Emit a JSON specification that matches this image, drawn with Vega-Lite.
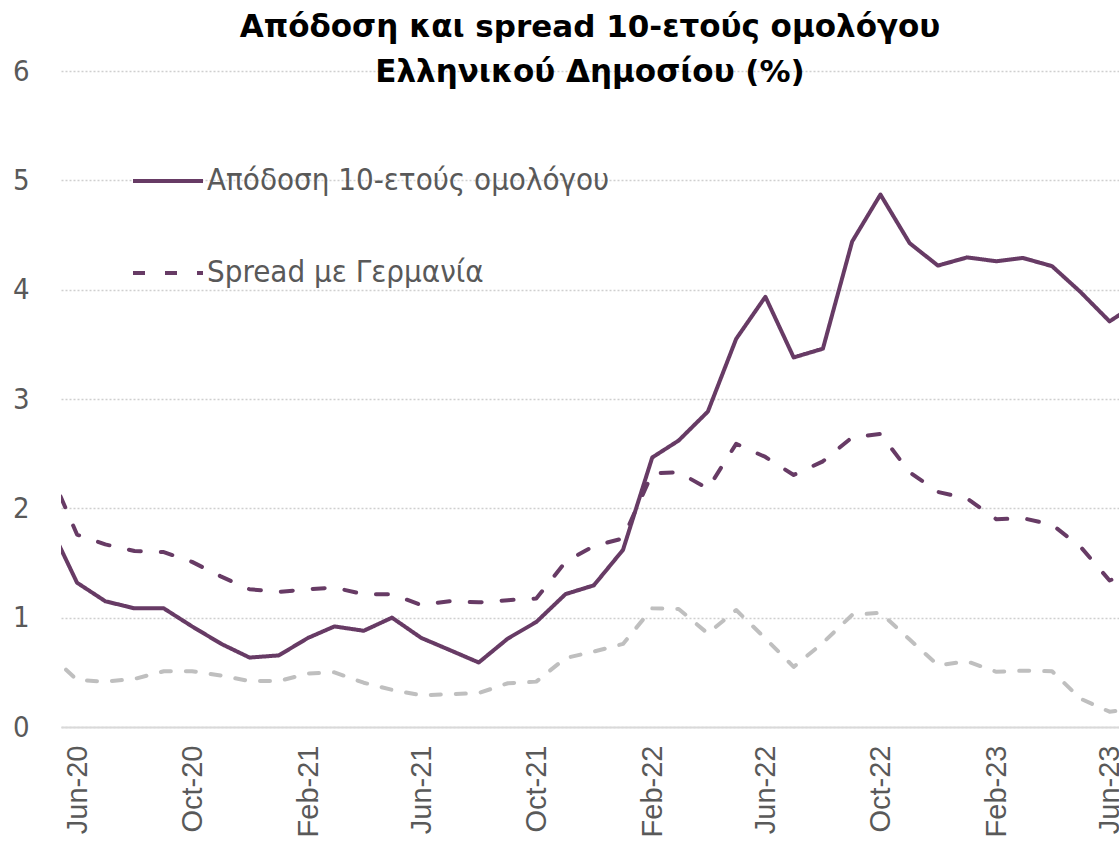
{
  "$schema": "https://vega.github.io/schema/vega-lite/v6.json",
  "autosize": {"type": "none"},
  "width": 1058,
  "height": 656,
  "padding": {"left": 61, "top": 71, "right": 0, "bottom": 116},
  "background": "white",
  "title": {
    "text": ["Απόδοση και spread 10-ετούς ομολόγου", "Ελληνικού Δημοσίου (%)"],
    "font": "DejaVu Sans",
    "fontSize": 31,
    "fontWeight": "bold",
    "color": "#000000",
    "anchor": "middle",
    "frame": "group",
    "offset": -32,
    "lineHeight": 45
  },
  "config": {"view": {"stroke": null}},
  "data": {
    "values": [
      {"d": "2020-05-01", "s": "Απόδοση 10-ετούς ομολόγου", "v": 1.88},
      {"d": "2020-06-01", "s": "Απόδοση 10-ετούς ομολόγου", "v": 1.32},
      {"d": "2020-07-01", "s": "Απόδοση 10-ετούς ομολόγου", "v": 1.15},
      {"d": "2020-08-01", "s": "Απόδοση 10-ετούς ομολόγου", "v": 1.085},
      {"d": "2020-09-01", "s": "Απόδοση 10-ετούς ομολόγου", "v": 1.085},
      {"d": "2020-10-01", "s": "Απόδοση 10-ετούς ομολόγου", "v": 0.92},
      {"d": "2020-11-01", "s": "Απόδοση 10-ετούς ομολόγου", "v": 0.76},
      {"d": "2020-12-01", "s": "Απόδοση 10-ετούς ομολόγου", "v": 0.635},
      {"d": "2021-01-01", "s": "Απόδοση 10-ετούς ομολόγου", "v": 0.655},
      {"d": "2021-02-01", "s": "Απόδοση 10-ετούς ομολόγου", "v": 0.815},
      {"d": "2021-03-01", "s": "Απόδοση 10-ετούς ομολόγου", "v": 0.92},
      {"d": "2021-04-01", "s": "Απόδοση 10-ετούς ομολόγου", "v": 0.88},
      {"d": "2021-05-01", "s": "Απόδοση 10-ετούς ομολόγου", "v": 1.0},
      {"d": "2021-06-01", "s": "Απόδοση 10-ετούς ομολόγου", "v": 0.815},
      {"d": "2021-07-01", "s": "Απόδοση 10-ετούς ομολόγου", "v": 0.705},
      {"d": "2021-08-01", "s": "Απόδοση 10-ετούς ομολόγου", "v": 0.59},
      {"d": "2021-09-01", "s": "Απόδοση 10-ετούς ομολόγου", "v": 0.81},
      {"d": "2021-10-01", "s": "Απόδοση 10-ετούς ομολόγου", "v": 0.96},
      {"d": "2021-11-01", "s": "Απόδοση 10-ετούς ομολόγου", "v": 1.215},
      {"d": "2021-12-01", "s": "Απόδοση 10-ετούς ομολόγου", "v": 1.295},
      {"d": "2022-01-01", "s": "Απόδοση 10-ετούς ομολόγου", "v": 1.62},
      {"d": "2022-02-01", "s": "Απόδοση 10-ετούς ομολόγου", "v": 2.465},
      {"d": "2022-03-01", "s": "Απόδοση 10-ετούς ομολόγου", "v": 2.62},
      {"d": "2022-04-01", "s": "Απόδοση 10-ετούς ομολόγου", "v": 2.885},
      {"d": "2022-05-01", "s": "Απόδοση 10-ετούς ομολόγου", "v": 3.55},
      {"d": "2022-06-01", "s": "Απόδοση 10-ετούς ομολόγου", "v": 3.935},
      {"d": "2022-07-01", "s": "Απόδοση 10-ετούς ομολόγου", "v": 3.38},
      {"d": "2022-08-01", "s": "Απόδοση 10-ετούς ομολόγου", "v": 3.46},
      {"d": "2022-09-01", "s": "Απόδοση 10-ετούς ομολόγου", "v": 4.44},
      {"d": "2022-10-01", "s": "Απόδοση 10-ετούς ομολόγου", "v": 4.87},
      {"d": "2022-11-01", "s": "Απόδοση 10-ετούς ομολόγου", "v": 4.425},
      {"d": "2022-12-01", "s": "Απόδοση 10-ετούς ομολόγου", "v": 4.22},
      {"d": "2023-01-01", "s": "Απόδοση 10-ετούς ομολόγου", "v": 4.295},
      {"d": "2023-02-01", "s": "Απόδοση 10-ετούς ομολόγου", "v": 4.26},
      {"d": "2023-03-01", "s": "Απόδοση 10-ετούς ομολόγου", "v": 4.29},
      {"d": "2023-04-01", "s": "Απόδοση 10-ετούς ομολόγου", "v": 4.215},
      {"d": "2023-05-01", "s": "Απόδοση 10-ετούς ομολόγου", "v": 3.98},
      {"d": "2023-06-01", "s": "Απόδοση 10-ετούς ομολόγου", "v": 3.71},
      {"d": "2023-07-01", "s": "Απόδοση 10-ετούς ομολόγου", "v": 3.88},

      {"d": "2020-05-01", "s": "Spread με Γερμανία", "v": 2.38},
      {"d": "2020-06-01", "s": "Spread με Γερμανία", "v": 1.76},
      {"d": "2020-07-01", "s": "Spread με Γερμανία", "v": 1.67},
      {"d": "2020-08-01", "s": "Spread με Γερμανία", "v": 1.61},
      {"d": "2020-09-01", "s": "Spread με Γερμανία", "v": 1.6},
      {"d": "2020-10-01", "s": "Spread με Γερμανία", "v": 1.51},
      {"d": "2020-11-01", "s": "Spread με Γερμανία", "v": 1.375},
      {"d": "2020-12-01", "s": "Spread με Γερμανία", "v": 1.26},
      {"d": "2021-01-01", "s": "Spread με Γερμανία", "v": 1.235},
      {"d": "2021-02-01", "s": "Spread με Γερμανία", "v": 1.26},
      {"d": "2021-03-01", "s": "Spread με Γερμανία", "v": 1.275},
      {"d": "2021-04-01", "s": "Spread με Γερμανία", "v": 1.215},
      {"d": "2021-05-01", "s": "Spread με Γερμανία", "v": 1.215},
      {"d": "2021-06-01", "s": "Spread με Γερμανία", "v": 1.115},
      {"d": "2021-07-01", "s": "Spread με Γερμανία", "v": 1.15},
      {"d": "2021-08-01", "s": "Spread με Γερμανία", "v": 1.14},
      {"d": "2021-09-01", "s": "Spread με Γερμανία", "v": 1.16},
      {"d": "2021-10-01", "s": "Spread με Γερμανία", "v": 1.175},
      {"d": "2021-11-01", "s": "Spread με Γερμανία", "v": 1.51},
      {"d": "2021-12-01", "s": "Spread με Γερμανία", "v": 1.655},
      {"d": "2022-01-01", "s": "Spread με Γερμανία", "v": 1.725},
      {"d": "2022-02-01", "s": "Spread με Γερμανία", "v": 2.32},
      {"d": "2022-03-01", "s": "Spread με Γερμανία", "v": 2.33},
      {"d": "2022-04-01", "s": "Spread με Γερμανία", "v": 2.18},
      {"d": "2022-05-01", "s": "Spread με Γερμανία", "v": 2.59},
      {"d": "2022-06-01", "s": "Spread με Γερμανία", "v": 2.47},
      {"d": "2022-07-01", "s": "Spread με Γερμανία", "v": 2.305},
      {"d": "2022-08-01", "s": "Spread με Γερμανία", "v": 2.43},
      {"d": "2022-09-01", "s": "Spread με Γερμανία", "v": 2.65},
      {"d": "2022-10-01", "s": "Spread με Γερμανία", "v": 2.68},
      {"d": "2022-11-01", "s": "Spread με Γερμανία", "v": 2.33},
      {"d": "2022-12-01", "s": "Spread με Γερμανία", "v": 2.15},
      {"d": "2023-01-01", "s": "Spread με Γερμανία", "v": 2.09},
      {"d": "2023-02-01", "s": "Spread με Γερμανία", "v": 1.9},
      {"d": "2023-03-01", "s": "Spread με Γερμανία", "v": 1.91},
      {"d": "2023-04-01", "s": "Spread με Γερμανία", "v": 1.85},
      {"d": "2023-05-01", "s": "Spread με Γερμανία", "v": 1.65},
      {"d": "2023-06-01", "s": "Spread με Γερμανία", "v": 1.34},
      {"d": "2023-07-01", "s": "Spread με Γερμανία", "v": 1.45},

      {"d": "2020-05-01", "s": "Σειρά 3", "v": 0.68},
      {"d": "2020-06-01", "s": "Σειρά 3", "v": 0.43},
      {"d": "2020-07-01", "s": "Σειρά 3", "v": 0.415},
      {"d": "2020-08-01", "s": "Σειρά 3", "v": 0.44},
      {"d": "2020-09-01", "s": "Σειρά 3", "v": 0.51},
      {"d": "2020-10-01", "s": "Σειρά 3", "v": 0.51},
      {"d": "2020-11-01", "s": "Σειρά 3", "v": 0.47},
      {"d": "2020-12-01", "s": "Σειρά 3", "v": 0.42},
      {"d": "2021-01-01", "s": "Σειρά 3", "v": 0.42},
      {"d": "2021-02-01", "s": "Σειρά 3", "v": 0.49},
      {"d": "2021-03-01", "s": "Σειρά 3", "v": 0.5},
      {"d": "2021-04-01", "s": "Σειρά 3", "v": 0.405},
      {"d": "2021-05-01", "s": "Σειρά 3", "v": 0.34},
      {"d": "2021-06-01", "s": "Σειρά 3", "v": 0.29},
      {"d": "2021-07-01", "s": "Σειρά 3", "v": 0.3},
      {"d": "2021-08-01", "s": "Σειρά 3", "v": 0.31},
      {"d": "2021-09-01", "s": "Σειρά 3", "v": 0.4},
      {"d": "2021-10-01", "s": "Σειρά 3", "v": 0.415},
      {"d": "2021-11-01", "s": "Σειρά 3", "v": 0.63},
      {"d": "2021-12-01", "s": "Σειρά 3", "v": 0.69},
      {"d": "2022-01-01", "s": "Σειρά 3", "v": 0.76},
      {"d": "2022-02-01", "s": "Σειρά 3", "v": 1.085},
      {"d": "2022-03-01", "s": "Σειρά 3", "v": 1.08},
      {"d": "2022-04-01", "s": "Σειρά 3", "v": 0.855},
      {"d": "2022-05-01", "s": "Σειρά 3", "v": 1.07},
      {"d": "2022-06-01", "s": "Σειρά 3", "v": 0.81},
      {"d": "2022-07-01", "s": "Σειρά 3", "v": 0.55},
      {"d": "2022-08-01", "s": "Σειρά 3", "v": 0.77},
      {"d": "2022-09-01", "s": "Σειρά 3", "v": 1.025},
      {"d": "2022-10-01", "s": "Σειρά 3", "v": 1.045},
      {"d": "2022-11-01", "s": "Σειρά 3", "v": 0.8},
      {"d": "2022-12-01", "s": "Σειρά 3", "v": 0.565},
      {"d": "2023-01-01", "s": "Σειρά 3", "v": 0.6},
      {"d": "2023-02-01", "s": "Σειρά 3", "v": 0.505},
      {"d": "2023-03-01", "s": "Σειρά 3", "v": 0.515},
      {"d": "2023-04-01", "s": "Σειρά 3", "v": 0.51},
      {"d": "2023-05-01", "s": "Σειρά 3", "v": 0.26},
      {"d": "2023-06-01", "s": "Σειρά 3", "v": 0.14},
      {"d": "2023-07-01", "s": "Σειρά 3", "v": 0.17}
    ]
  },
  "mark": {"type": "line", "clip": true, "strokeCap": "round", "strokeJoin": "round"},
  "encoding": {
    "x": {
      "field": "d",
      "type": "temporal",
      "scale": {
        "type": "utc",
        "domain": [
          {"year": 2020, "month": 5, "date": 15, "utc": true},
          {"year": 2023, "month": 6, "date": 11, "utc": true}
        ]
      },
      "axis": {
        "values": [
          {"year": 2020, "month": 6, "date": 1, "utc": true},
          {"year": 2020, "month": 10, "date": 1, "utc": true},
          {"year": 2021, "month": 2, "date": 1, "utc": true},
          {"year": 2021, "month": 6, "date": 1, "utc": true},
          {"year": 2021, "month": 10, "date": 1, "utc": true},
          {"year": 2022, "month": 2, "date": 1, "utc": true},
          {"year": 2022, "month": 6, "date": 1, "utc": true},
          {"year": 2022, "month": 10, "date": 1, "utc": true},
          {"year": 2023, "month": 2, "date": 1, "utc": true},
          {"year": 2023, "month": 6, "date": 1, "utc": true}
        ],
        "format": "%b-%y",
        "labelAngle": -90,
        "labelFont": "Liberation Sans",
        "labelFontSize": 29,
        "labelColor": "#595959",
        "labelPadding": 18,
        "labelOverlap": false,
        "labelFlush": false,
        "labelBound": false,
        "ticks": false,
        "grid": false,
        "domain": true,
        "domainColor": "#D9D9D9",
        "domainWidth": 2,
        "title": null
      }
    },
    "y": {
      "field": "v",
      "type": "quantitative",
      "scale": {"domain": [0, 6], "nice": false},
      "axis": {
        "values": [0, 1, 2, 3, 4, 5, 6],
        "grid": true,
        "gridDash": [2, 2],
        "gridColor": "#CFCFCF",
        "gridWidth": 1.5,
        "domain": false,
        "ticks": false,
        "labelFont": "DejaVu Sans Condensed, DejaVu Sans",
        "labelFontSize": 29,
        "labelColor": "#595959",
        "labelPadding": 32,
        "title": null
      }
    },
    "color": {
      "field": "s",
      "type": "nominal",
      "scale": {
        "domain": ["Απόδοση 10-ετούς ομολόγου", "Spread με Γερμανία", "Σειρά 3"],
        "range": ["#673B65", "#673B65", "#BFBFBF"]
      },
      "legend": {
        "values": ["Απόδοση 10-ετούς ομολόγου", "Spread με Γερμανία"],
        "title": null,
        "orient": "none",
        "legendX": 70,
        "legendY": 73,
        "padding": 0,
        "symbolType": "stroke",
        "symbolSize": 4900,
        "symbolStrokeWidth": 4,
        "labelFont": "DejaVu Sans Condensed, DejaVu Sans",
        "labelFontSize": 31,
        "labelColor": "#595959",
        "labelOffset": 2,
        "rowPadding": 40,
        "labelLimit": 600
      }
    },
    "strokeDash": {
      "field": "s",
      "type": "nominal",
      "scale": {
        "domain": ["Απόδοση 10-ετούς ομολόγου", "Spread με Γερμανία", "Σειρά 3"],
        "range": [[1, 0], [12, 20], [10, 15]]
      },
      "legend": {
        "values": ["Απόδοση 10-ετούς ομολόγου", "Spread με Γερμανία"],
        "title": null,
        "orient": "none",
        "legendX": 70,
        "legendY": 73,
        "padding": 0,
        "symbolType": "stroke",
        "symbolSize": 4900,
        "symbolStrokeWidth": 4,
        "labelFont": "DejaVu Sans Condensed, DejaVu Sans",
        "labelFontSize": 31,
        "labelColor": "#595959",
        "labelOffset": 2,
        "rowPadding": 40,
        "labelLimit": 600
      }
    },
    "strokeWidth": {
      "field": "s",
      "type": "nominal",
      "scale": {
        "domain": ["Απόδοση 10-ετούς ομολόγου", "Spread με Γερμανία", "Σειρά 3"],
        "range": [4, 4, 5]
      },
      "legend": null
    }
  }
}
